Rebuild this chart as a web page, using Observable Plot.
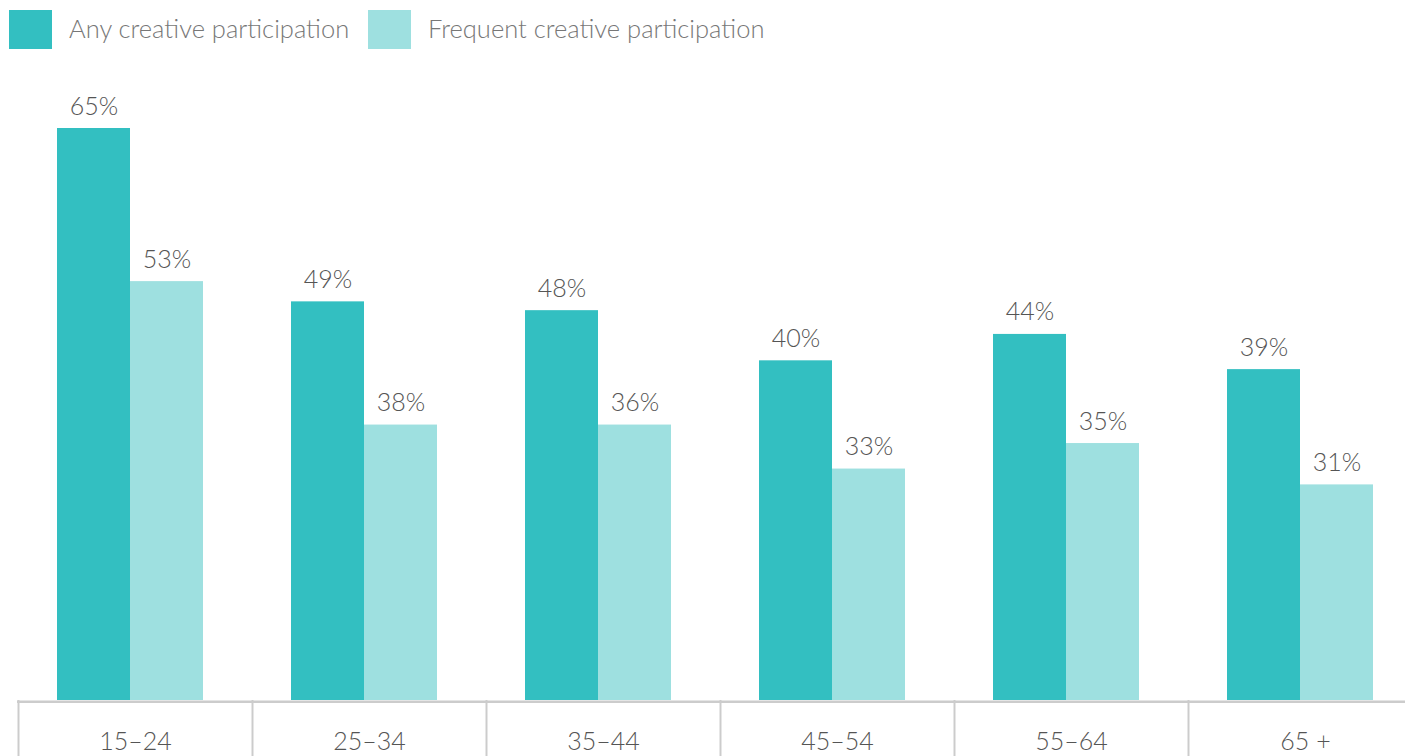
<!DOCTYPE html>
<html>
<head>
<meta charset="utf-8">
<script src="https://cdn.jsdelivr.net/npm/d3@7"></script>
<script src="https://cdn.jsdelivr.net/npm/@observablehq/plot@0.6"></script>
<style>
  html, body { margin: 0; padding: 0; overflow: hidden; background: #fff; }
  #legend { position: relative; height: 60px; font-family: Lato, "Open Sans", sans-serif; font-weight: 300; font-size: 25.5px; color: #777; }
  .item { position: absolute; top: 10px; display: flex; align-items: flex-start; }
  .sw { width: 43px; height: 39px; margin-right: 17px; }
  .lab { line-height: 39px; position: relative; top: -1px; white-space: nowrap; }
  #chart svg { display: block; }
</style>
</head>
<body>
<div id="legend"></div>
<div id="chart"></div>
<script>
// Age groups
const categories = ["15–24", "25–34", "35–44", "45–54", "55–64", "65 +"];
// Series names and colours
const seriesNames = ["Any creative participation", "Frequent creative participation"];
const seriesColors = ["#33bfc1", "#9ee0e0"];
// Printed percentage labels
const anyLabels = [65, 49, 48, 40, 44, 39];
const freqLabels = [53, 38, 36, 33, 35, 31];
// Bar lengths as drawn in the picture (percentage units on the 0–65 scale)
const anyBars = [65, 45.3, 44.3, 38.6, 41.6, 37.6];
const freqBars = [47.6, 31.3, 31.3, 26.3, 29.2, 24.5];

const anyData = categories.map((c, i) => ({cat: c, v: anyBars[i], label: anyLabels[i] + "%"}));
const freqData = categories.map((c, i) => ({cat: c, v: freqBars[i], label: freqLabels[i] + "%"}));

// Legend
const legend = document.getElementById("legend");
const lefts = [9, 368];
seriesNames.forEach((name, i) => {
  const it = document.createElement("div");
  it.className = "item";
  it.style.left = lefts[i] + "px";
  const sw = document.createElement("div");
  sw.className = "sw";
  sw.style.background = seriesColors[i];
  const lab = document.createElement("span");
  lab.className = "lab";
  lab.textContent = name;
  it.appendChild(sw);
  it.appendChild(lab);
  legend.appendChild(it);
});

const band = 234;
const chart = Plot.plot({
  width: 1405,
  height: 696,
  marginLeft: 17,
  marginRight: 0,
  marginTop: 0,
  marginBottom: 56,
  style: {fontFamily: "Lato, 'Open Sans', sans-serif", fontSize: "25px", fontWeight: 300, color: "#555", background: "#fff"},
  x: {type: "band", domain: categories, range: [18, 18 + band * categories.length], padding: 0, tickSize: 0, tickPadding: 32, label: null},
  y: {domain: [0, 65], range: [640, 68], axis: null},
  marks: [
    Plot.barY(anyData, {x: "cat", y: "v", fill: seriesColors[0], insetLeft: 39, insetRight: band - 112}),
    Plot.barY(freqData, {x: "cat", y: "v", fill: seriesColors[1], insetLeft: 112, insetRight: band - 185}),
    Plot.ruleY([0], {stroke: "#cccccc", strokeWidth: 2.5, dy: 1.25}),
    Plot.ruleX(categories, {x: d => d, dx: -band / 2, y1: 0, y2: -8, stroke: "#cccccc", strokeWidth: 2}),
    Plot.text(anyData, {x: "cat", y: "v", text: "label", dx: -41.5, dy: -14, lineAnchor: "bottom", fill: "#555", fontSize: 25}),
    Plot.text(freqData, {x: "cat", y: "v", text: "label", dx: 31.5, dy: -14, lineAnchor: "bottom", fill: "#555", fontSize: 25})
  ]
});
document.getElementById("chart").appendChild(chart);
</script>
</body>
</html>
